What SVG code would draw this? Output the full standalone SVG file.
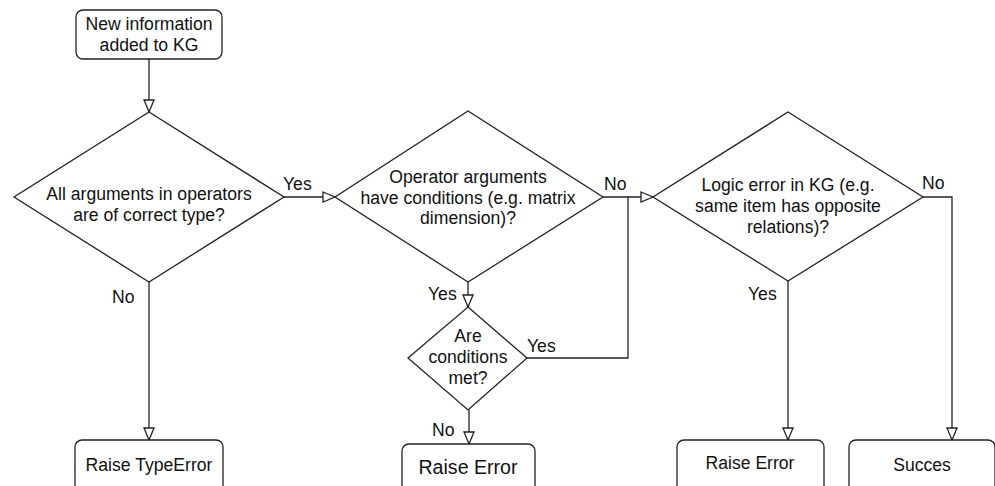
<svg xmlns="http://www.w3.org/2000/svg" width="995" height="486" viewBox="0 0 995 486">
<style>
.shape{fill:#fff;stroke:#222;stroke-width:1.3}
.edge{fill:none;stroke:#222;stroke-width:1.3}
text{font-family:"Liberation Sans",Arial,sans-serif;font-size:17.6px;fill:#111;text-anchor:middle;dominant-baseline:central}
.lbl{text-anchor:start}
.big{font-size:19.6px}
</style>
<defs>
<marker id="arr" markerUnits="userSpaceOnUse" markerWidth="14" markerHeight="12" refX="13" refY="6" orient="auto">
<path d="M1,1 L13,6 L1,11 Z" fill="#fff" stroke="#222" stroke-width="1.3"/>
</marker>
</defs>
<rect width="995" height="486" fill="#fff"/>
<g id="connectors">
<path class="edge" d="M149,59 V112" marker-end="url(#arr)"/>
<path class="edge" d="M284,197 H335" marker-end="url(#arr)"/>
<path class="edge" d="M149,282 V440" marker-end="url(#arr)"/>
<path class="edge" d="M603,197 H653" marker-end="url(#arr)"/>
<path class="edge" d="M468,282 V307" marker-end="url(#arr)"/>
<path class="edge" d="M527,358 H628 V197"/>
<path class="edge" d="M469,410 V444" marker-end="url(#arr)"/>
<path class="edge" d="M788,281 V440" marker-end="url(#arr)"/>
<path class="edge" d="M923,197 H952 V440" marker-end="url(#arr)"/>
<text class="lbl" x="283" y="184">Yes</text>
<text class="lbl" x="112" y="297">No</text>
<text class="lbl" x="604" y="184">No</text>
<text class="lbl" x="428" y="294">Yes</text>
<text class="lbl" x="527" y="346">Yes</text>
<text class="lbl" x="432" y="430">No</text>
<text class="lbl" x="922" y="183">No</text>
<text class="lbl" x="748" y="294">Yes</text>
</g>
<g id="start">
<rect class="shape" x="76" y="10" width="146" height="49" rx="7"/>
<text x="149" y="24">New information</text>
<text x="149" y="45">added to KG</text>
</g>
<g id="d1">
<polygon class="shape" points="149,112 284,197 149,282 14,197"/>
<text x="149" y="194">All arguments in operators</text>
<text x="149" y="215">are of correct type?</text>
</g>
<g id="d2">
<polygon class="shape" points="468,111 603,197 468,282 335,197"/>
<text x="468" y="177">Operator arguments</text>
<text x="468" y="198">have conditions (e.g. matrix</text>
<text x="468" y="218">dimension)?</text>
</g>
<g id="d3">
<polygon class="shape" points="788,112 923,197 788,281 653,197"/>
<text x="788" y="185">Logic error in KG (e.g.</text>
<text x="788" y="206">same item has opposite</text>
<text x="788" y="227">relations)?</text>
</g>
<g id="d4">
<polygon class="shape" points="468,307 527,358 468,410 408,358"/>
<text x="468" y="336">Are</text>
<text x="468" y="357">conditions</text>
<text x="468" y="378">met?</text>
</g>
<g id="typeerror">
<rect class="shape" x="75" y="440" width="148" height="60" rx="7"/>
<text x="149" y="465">Raise TypeError</text>
</g>
<g id="error1">
<rect class="shape" x="402" y="444" width="133" height="60" rx="7"/>
<text class="big" x="468" y="467">Raise Error</text>
</g>
<g id="error2">
<rect class="shape" x="677" y="440" width="147" height="60" rx="7"/>
<text x="750" y="463">Raise Error</text>
</g>
<g id="success">
<rect class="shape" x="849" y="440" width="146" height="60" rx="7"/>
<text x="922" y="465">Succes</text>
</g>
</svg>
